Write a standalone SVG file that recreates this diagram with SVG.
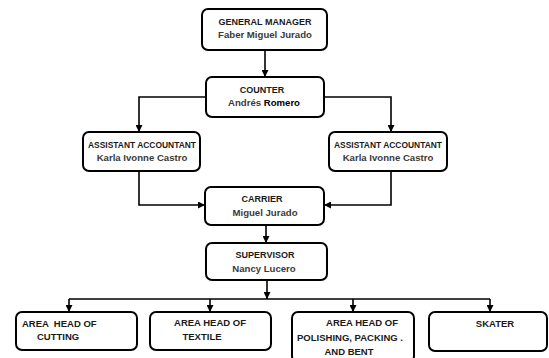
<svg xmlns="http://www.w3.org/2000/svg" width="549" height="358" viewBox="0 0 549 358">
<style>
.box{fill:#fff;stroke:#000;stroke-width:2}
.t{font-family:"Liberation Sans",Arial,sans-serif;font-weight:bold;font-size:9px;fill:#1a1a1a;text-anchor:middle}
.b{font-size:9.5px}
.n{font-family:"Liberation Sans",Arial,sans-serif;font-weight:bold;font-size:9.6px;fill:#3a3a3a;text-anchor:middle}
.c{fill:none;stroke:#000;stroke-width:1.6}
</style>
<defs>
<marker id="ah" markerUnits="userSpaceOnUse" markerWidth="7" markerHeight="7" viewBox="0 0 7 7" refX="7" refY="3.5" orient="auto">
<path d="M0,0 L7,3.5 L0,7 Z" fill="#000"/>
</marker>
</defs>
<rect width="549" height="358" fill="#fff"/>
<g id="connectors">
<path class="c" d="M265,50 V77" marker-end="url(#ah)"/>
<path class="c" d="M206,97 H139 V132" marker-end="url(#ah)"/>
<path class="c" d="M324,97 H391 V132" marker-end="url(#ah)"/>
<path class="c" d="M139,171 V205 H205" marker-end="url(#ah)"/>
<path class="c" d="M391,171 V205 H324" marker-end="url(#ah)"/>
<path class="c" d="M266,225 V243" marker-end="url(#ah)"/>
<path class="c" d="M267,280 V299" marker-end="url(#ah)"/>
<path class="c" d="M69,299 H490"/>
<path class="c" d="M69,299 V312" marker-end="url(#ah)"/>
<path class="c" d="M210,299 V312" marker-end="url(#ah)"/>
<path class="c" d="M353,299 V312" marker-end="url(#ah)"/>
<path class="c" d="M490,299 V312" marker-end="url(#ah)"/>
</g>
<g id="general-manager">
<rect class="box" x="202" y="9" width="125" height="41" rx="6"/>
<text class="t" x="265" y="25">GENERAL MANAGER</text>
<text class="n" x="265" y="38">Faber Miguel Jurado</text>
</g>
<g id="counter">
<rect class="box" x="206" y="77" width="118" height="40" rx="6"/>
<text class="t" x="262" y="93">COUNTER</text>
<text class="n" x="264" y="106">Andrés <tspan fill="#000">Romero</tspan></text>
</g>
<g id="assistant-left">
<rect class="box" x="83" y="132" width="117" height="39" rx="6"/>
<text class="t" x="142" y="148" textLength="108" lengthAdjust="spacingAndGlyphs">ASSISTANT ACCOUNTANT</text>
<text class="n" x="142" y="161">Karla Ivonne Castro</text>
</g>
<g id="assistant-right">
<rect class="box" x="329" y="132" width="118" height="39" rx="6"/>
<text class="t" x="388" y="148" textLength="108" lengthAdjust="spacingAndGlyphs">ASSISTANT ACCOUNTANT</text>
<text class="n" x="388" y="161">Karla Ivonne Castro</text>
</g>
<g id="carrier">
<rect class="box" x="205" y="187" width="119" height="38" rx="6"/>
<text class="t" x="262" y="202">CARRIER</text>
<text class="n" x="265" y="216">Miguel Jurado</text>
</g>
<g id="supervisor">
<rect class="box" x="206" y="243" width="121" height="37" rx="6"/>
<text class="t" x="265" y="258">SUPERVISOR</text>
<text class="n" x="264" y="272">Nancy Lucero</text>
</g>
<g id="area-cutting">
<rect class="box" x="16" y="312" width="121" height="38" rx="6"/>
<text class="t b" x="22" y="327" style="text-anchor:start" xml:space="preserve">AREA  HEAD OF</text>
<text class="t b" x="37" y="340" style="text-anchor:start">CUTTING</text>
</g>
<g id="area-textile">
<rect class="box" x="150" y="312" width="121" height="38" rx="6"/>
<text class="t b" x="210" y="326">AREA HEAD OF</text>
<text class="t b" x="202" y="340">TEXTILE</text>
</g>
<g id="area-polishing">
<rect class="box" x="292" y="312" width="122" height="50" rx="6"/>
<text class="t b" x="362" y="326">AREA HEAD OF</text>
<text class="t b" x="350" y="341">POLISHING, PACKING .</text>
<text class="t b" x="349" y="355">AND BENT</text>
</g>
<g id="skater">
<rect class="box" x="429" y="312" width="118" height="39" rx="6"/>
<text class="t b" x="495" y="327">SKATER</text>
</g>
</svg>
